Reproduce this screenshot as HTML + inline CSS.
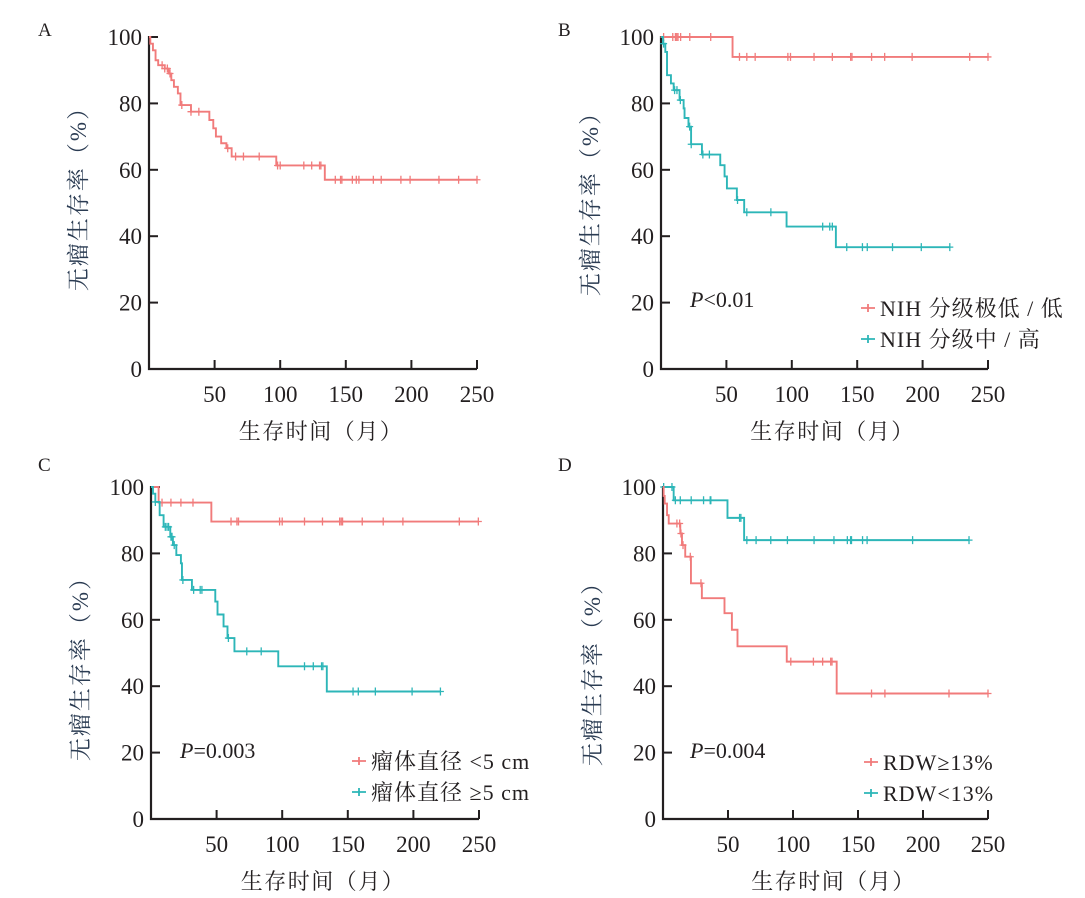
<!DOCTYPE html>
<html><head><meta charset="utf-8"><style>
body{margin:0;background:#fff}
svg{display:block}
text{font-family:"Liberation Serif","Noto Serif CJK SC",serif;fill:#231f20}
</style></head><body>
<svg id="chart" width="1085" height="898" viewBox="0 0 1085 898" xmlns="http://www.w3.org/2000/svg"></svg>
<script>
const xTicks=[50,100,150,200,250];
const yTicks=[0,20,40,60,80,100];
// Panel A
const aT=[0,1,3,5,7,12,15,17,19,22,24,32,46,49,51,55,59,63,97,134,250];
const aS=[100,98,96,93,91.5,90.5,89,87,85,83,79.5,77.5,75,72.5,70,68,66.5,64,61.3,57,57];
const aC=[10,12,14,16,25,32,38,60,66,72,84,98,100,118,124,130,131,142,146,147,155,158,160,171,177,192,199,221,236,250];
// Panel B
const bRedT=[0,54.7,250];
const bRedS=[100,94,94];
const bRedC=[2,9,11,12,13,15,22,38,60,65.6,72,97,99,117,131,145,146,161,171,192,236,250];
const bCyT=[0,1.5,3.3,4.6,7.6,9.7,14.2,17.3,18,21,23,31.3,45.3,48.6,50.4,58,63.6,96,133.7,220.8];
const bCyS=[100,98,95.5,88.5,86,84,81,78.5,75.6,73,67.7,64.6,61.4,58,54.4,50.9,47.2,42.9,36.7,36.7];
const bCyC=[2,10.4,12.2,14.8,21.9,23.1,32,37,58.5,65.6,84,123.6,129,131,142,154,157.7,177,199,220.8];
// Panel C
const cRedT=[0,5.8,46,249.5];
const cRedS=[100,95.3,89.6,89.6];
const cRedC=[8.4,15.2,22.8,32,61,65.5,66.7,98,100,117,130.7,143.8,145,146,161,177,192,235,249.5];
const cCyT=[0,1.5,3.3,6.6,9.6,14.7,16.7,19.3,22.8,23.6,31.2,49,50.7,55.3,58.3,63.6,97,134,220.6];
const cCyS=[100,98,95.5,91.5,88,85,82.5,79.5,77,72,69,65.5,61.6,58,54.5,50.5,46,38.4,38.4];
const cCyC=[3.3,10.9,12.2,13.4,15.2,16,17.7,24.3,32.5,37.5,38.8,59,73,84,117,123.7,130,131,154,158,171,199,220.6];
// Panel D
const dCyT=[0,8.2,49.6,62.4,235.4];
const dCyS=[100,96,90.7,84,84];
const dCyC=[0.5,6.9,9.5,13.3,21.7,31.2,36.3,36.8,58.9,59.9,64.5,71.6,82.9,95.7,116.2,131.5,141.8,144.3,145,153.5,157,192,235.4];
const dRedT=[0,0.5,1.3,3.1,4.4,13.3,14.6,17.1,21.5,29.9,47.3,53,57.3,95.2,133.6,250];
const dRedS=[100,97.3,95,91.5,89,86,82.5,79,71,66.5,62,57,52,47.4,37.8,37.8];
const dRedC=[10.7,12.8,13.8,15.4,21,29.2,98.3,115.7,122.8,129,130,160.4,170.7,220,250];

const RED='#f17b7b', CY='#2db6b8';
const svg=document.getElementById('chart');
const NS='http://www.w3.org/2000/svg';
function mk(tag,attrs,parent){const e=document.createElementNS(NS,tag);for(const k in attrs)e.setAttribute(k,attrs[k]);(parent||svg).appendChild(e);return e;}
function txt(s,attrs,parent){const e=mk('text',attrs,parent);e.textContent=s;return e;}

function panel(p){
  const g=mk('g',{});
  
  
  const X=v=>p.x0+(p.x1-p.x0)*v/250, Y=v=>p.y0+(p.y1-p.y0)*v/100;
  const lab=txt(p.id,{x:p.lx,y:p.ly,'font-size':19},g);
  
  
  const ax=mk('path',{d:`M${p.x0},${Y(100)-1}V${p.y0}H${p.x1}`,stroke:'#231f20','stroke-width':2.2,fill:'none'},g);
  
  
  yTicks.forEach(v=>{
    mk('line',{x1:p.x0,x2:p.x0+9,y1:Y(v),y2:Y(v),stroke:'#231f20','stroke-width':2},g);
    const t=txt(String(v),{x:p.x0-7,y:Y(v)+8,'font-size':23,'text-anchor':'end'},g);
    
    
  });
  xTicks.forEach(v=>{
    mk('line',{x1:X(v),x2:X(v),y1:p.y0,y2:p.y0-9,stroke:'#231f20','stroke-width':2},g);
    const t=txt(String(v),{x:X(v),y:p.y0+33,'font-size':23,'text-anchor':'middle'},g);
    
    
  });
  const xt=txt('生存时间（月）',{x:(p.x0+p.x1)/2+8,y:p.y0+70,'font-size':22,'letter-spacing':'1.5','text-anchor':'middle'},g);
  
  
  const cy=(Y(0)+Y(100))/2+p.yo;
  const yt=txt('无瘤生存率（%）',{x:0,y:0,'font-size':23,'letter-spacing':'2','text-anchor':'middle',transform:`translate(${p.x0-63},${cy}) rotate(-90)`,style:'fill:#2a3b52'},g);
  
  
  p.series.forEach(s=>{
    let d=`M${X(s.t[0])},${Y(s.s[0])}`;
    for(let i=1;i<s.t.length;i++){d+=`H${X(s.t[i])}V${Y(s.s[i])}`;}
    const l=mk('path',{d:d,stroke:s.c,'stroke-width':1.9,fill:'none'},g);
    
    
    s.cen.forEach(tc=>{
      let v=s.s[0];for(let i=0;i<s.t.length;i++){if(s.t[i]<=tc)v=s.s[i];}
      const m=mk('path',{d:`M${X(tc)-3.5},${Y(v)}h7M${X(tc)},${Y(v)-4}v8`,stroke:s.c,'stroke-width':1.3},g);
      
      
    });
  });
  if(p.pv){
    const pt=mk('text',{x:p.pv[0],y:p.pv[1],'font-size':22},g);
    pt.innerHTML='<tspan font-style="italic">P</tspan>'+p.pv[2];
    
    
  }
  if(p.leg){
    p.leg.forEach((e,i)=>{
      const yy=p.leg_y+i*31;
      mk('path',{d:`M${p.leg_x},${yy}h14M${p.leg_x+7},${yy-4}v8`,stroke:e[1],'stroke-width':1.8},g);
      const lt=txt(e[0],{x:p.leg_x+19,y:yy+8,'font-size':22,'letter-spacing':'1'},g);
      
      
    });
  }
}
panel({id:'A',lx:38,ly:36,x0:149,x1:477,y0:369,y1:37,yo:-10,series:[{t:aT,s:aS,c:RED,cen:aC}]});
panel({id:'B',lx:558,ly:36,x0:661,x1:988,y0:369,y1:37,yo:-5,
  series:[{t:bRedT,s:bRedS,c:RED,cen:bRedC},{t:bCyT,s:bCyS,c:CY,cen:bCyC}],
  pv:[690,307,'<0.01'],leg:[['NIH 分级极低 / 低',RED],['NIH 分级中 / 高',CY]],leg_x:861,leg_y:308});
panel({id:'C',lx:38,ly:471,x0:151,x1:479,y0:819,y1:487,yo:10,
  series:[{t:cRedT,s:cRedS,c:RED,cen:cRedC},{t:cCyT,s:cCyS,c:CY,cen:cCyC}],
  pv:[180,758,'=0.003'],leg:[['瘤体直径 <5 cm',RED],['瘤体直径 ≥5 cm',CY]],leg_x:352,leg_y:761});
panel({id:'D',lx:558,ly:471,x0:663,x1:988,y0:819,y1:487,yo:15,
  series:[{t:dCyT,s:dCyS,c:CY,cen:dCyC},{t:dRedT,s:dRedS,c:RED,cen:dRedC}],
  pv:[690,758,'=0.004'],leg:[['RDW≥13%',RED],['RDW<13%',CY]],leg_x:864,leg_y:762});
</script>
</body></html>
